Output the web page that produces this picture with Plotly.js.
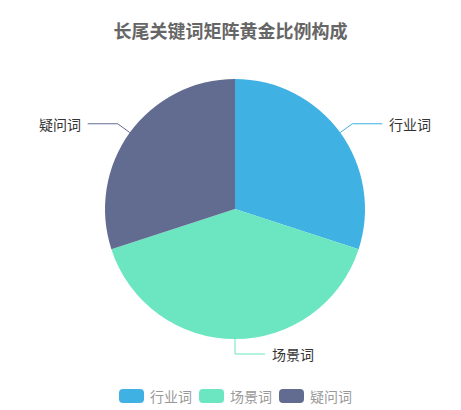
<!DOCTYPE html>
<html>
<head>
<meta charset="utf-8">
<script src="https://cdn.plot.ly/plotly-3.0.1.min.js"></script>
<style>
  html, body { margin: 0; padding: 0; background: #fff; }
  #chart { width: 461px; height: 410px; }
</style>
</head>
<body>
<div id="chart"></div>
<script>
// chart data
var categories = ['行业词', '场景词', '疑问词'];
var shares = [30, 40, 30];
var colors = ['#3fb1e3', '#6be6c1', '#626c91'];

var W = 461, H = 410;
var cx = 235, cy = 209, r = 130;
var font = '"Noto Sans CJK SC", "Noto Sans", sans-serif';

// pixel -> paper helpers (margins are zero)
function px(x) { return x / W; }
function py(y) { return 1 - y / H; }

var shapes = [];
var annotations = [];

// leader lines + outside labels, positioned from the slice angles
var total = shares.reduce(function(a, b) { return a + b; }, 0);
var cum = 0;
for (var i = 0; i < shares.length; i++) {
    var theta = 2 * Math.PI * (cum + shares[i] / 2) / total;
    cum += shares[i];
    var s = Math.sin(theta), c = Math.cos(theta);
    var x0 = cx + r * s, y0 = cy - r * c;
    var x1 = cx + (r + 15) * s, y1 = cy - (r + 15) * c;
    var right = s >= -1e-9;
    var x2 = right ? x1 + 30 : x1 - 30;

    shapes.push({
        type: 'path', xref: 'paper', yref: 'paper',
        path: 'M' + px(x0) + ',' + py(y0) + ' L' + px(x1) + ',' + py(y1) + ' L' + px(x2) + ',' + py(y1),
        line: { color: colors[i], width: 1 }
    });
    annotations.push({
        xref: 'paper', yref: 'paper',
        x: px(right ? x2 + 5 : x2 - 5), y: py(y1),
        xanchor: right ? 'left' : 'right', yanchor: 'middle',
        text: categories[i], showarrow: false,
        font: { family: font, size: 14, color: '#333' }
    });
}

// custom legend with rounded swatches
function roundRect(x, y, w, h, rad) {
    return 'M' + px(x + rad) + ',' + py(y) +
        ' L' + px(x + w - rad) + ',' + py(y) +
        ' Q' + px(x + w) + ',' + py(y) + ' ' + px(x + w) + ',' + py(y + rad) +
        ' L' + px(x + w) + ',' + py(y + h - rad) +
        ' Q' + px(x + w) + ',' + py(y + h) + ' ' + px(x + w - rad) + ',' + py(y + h) +
        ' L' + px(x + rad) + ',' + py(y + h) +
        ' Q' + px(x) + ',' + py(y + h) + ' ' + px(x) + ',' + py(y + h - rad) +
        ' L' + px(x) + ',' + py(y + rad) +
        ' Q' + px(x) + ',' + py(y) + ' ' + px(x + rad) + ',' + py(y) + ' Z';
}
var legendX = 119, legendY = 396, legendStep = 80;
for (var j = 0; j < categories.length; j++) {
    var lx = legendX + j * legendStep;
    shapes.push({
        type: 'path', xref: 'paper', yref: 'paper',
        path: roundRect(lx, legendY - 7, 25, 14, 4),
        fillcolor: colors[j], line: { width: 0 }
    });
    annotations.push({
        xref: 'paper', yref: 'paper',
        x: px(lx + 29), y: py(legendY),
        xanchor: 'left', yanchor: 'middle',
        text: categories[j], showarrow: false,
        font: { family: font, size: 14, color: '#999' }
    });
}

var data = [{
    type: 'pie',
    labels: categories,
    values: shares,
    sort: false,
    direction: 'clockwise',
    rotation: 0,
    textinfo: 'none',
    hoverinfo: 'label+percent',
    showlegend: false,
    marker: { colors: colors, line: { width: 0 } },
    domain: {
        x: [px(cx - r), px(cx + r)],
        y: [py(cy + r), py(cy - r)]
    }
}];

var layout = {
    width: W,
    height: H,
    margin: { l: 0, r: 0, t: 0, b: 0 },
    paper_bgcolor: '#fff',
    title: {
        text: '长尾关键词矩阵黄金比例构成',
        x: 0.5, xanchor: 'center',
        y: py(32), yanchor: 'middle',
        font: { family: font, size: 18, color: '#666', weight: 'bold' }
    },
    shapes: shapes,
    annotations: annotations
};

Plotly.newPlot('chart', data, layout, { displayModeBar: false, responsive: false });
</script>
</body>
</html>
